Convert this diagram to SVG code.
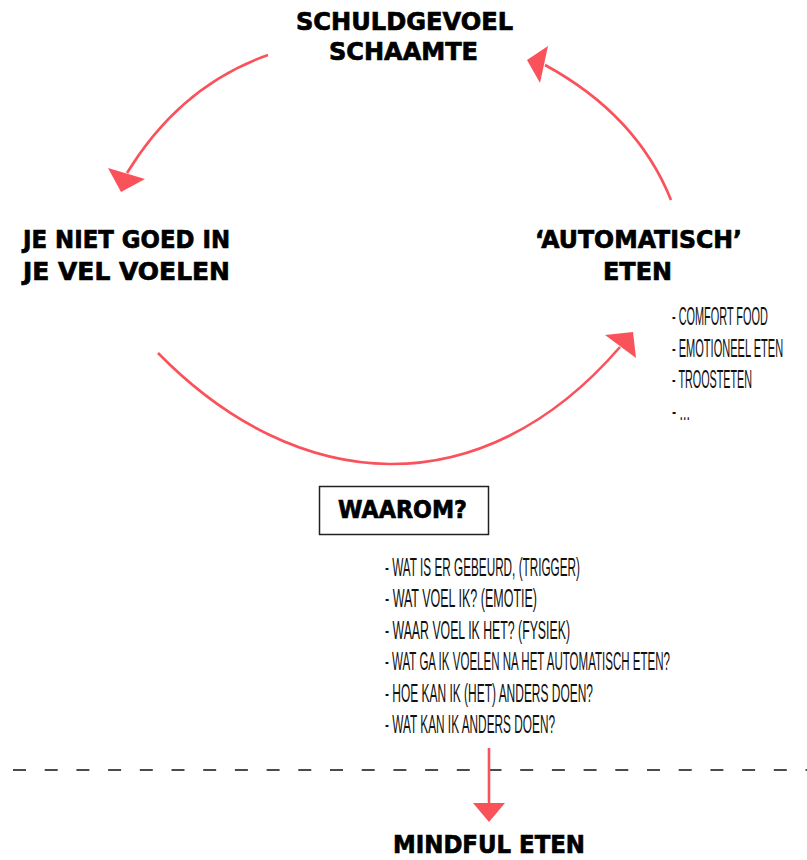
<svg xmlns="http://www.w3.org/2000/svg" width="807" height="860" viewBox="0 0 807 860">
<style>
.h{font-family:"DejaVu Sans","Liberation Sans",sans-serif;font-weight:bold;font-size:24.5px;fill:#000;stroke:#000;stroke-width:0.7}
.l{font-family:"Liberation Sans","DejaVu Sans",sans-serif;font-size:25px;fill:#111}
.c{fill:none;stroke:#FA525B;stroke-width:2.6}
.a{fill:#FA525B}
</style>
<rect width="807" height="860" fill="#fff"/>
<g id="node-schuldgevoel">
<text class="h" x="296" y="30" textLength="217" lengthAdjust="spacingAndGlyphs">SCHULDGEVOEL</text>
<text class="h" x="329" y="60" textLength="149" lengthAdjust="spacingAndGlyphs">SCHAAMTE</text>
</g>
<g id="node-niet-goed">
<text class="h" x="23" y="248" textLength="207" lengthAdjust="spacingAndGlyphs">JE NIET GOED IN</text>
<text class="h" x="23" y="280" textLength="207" lengthAdjust="spacingAndGlyphs">JE VEL VOELEN</text>
</g>
<g id="node-automatisch">
<text class="h" x="535" y="248" textLength="207" lengthAdjust="spacingAndGlyphs">‘AUTOMATISCH’</text>
<text class="h" x="603" y="280" textLength="69" lengthAdjust="spacingAndGlyphs">ETEN</text>
<g transform="translate(672,0) scale(0.45,1)">
<text class="l" x="0" y="325" textLength="213" lengthAdjust="spacingAndGlyphs">- COMFORT FOOD</text>
<text class="l" x="0" y="357" textLength="247" lengthAdjust="spacingAndGlyphs">- EMOTIONEEL ETEN</text>
<text class="l" x="0" y="388" textLength="178" lengthAdjust="spacingAndGlyphs">- TROOSTETEN</text>
<text class="l" x="0" y="420" textLength="40" lengthAdjust="spacingAndGlyphs">- ...</text>
</g>
</g>
<g id="node-waarom">
<rect x="319.5" y="486.5" width="169" height="48" fill="#fff" stroke="#222" stroke-width="1.5"/>
<text class="h" x="338" y="518" textLength="129" lengthAdjust="spacingAndGlyphs">WAAROM?</text>
<g transform="translate(385,0) scale(0.5,1)">
<text class="l" x="0" y="576" textLength="390" lengthAdjust="spacingAndGlyphs">- WAT IS ER GEBEURD, (TRIGGER)</text>
<text class="l" x="0" y="607.5" textLength="304" lengthAdjust="spacingAndGlyphs">- WAT VOEL IK? (EMOTIE)</text>
<text class="l" x="0" y="639" textLength="370" lengthAdjust="spacingAndGlyphs">- WAAR VOEL IK HET? (FYSIEK)</text>
<text class="l" x="0" y="670" textLength="570" lengthAdjust="spacingAndGlyphs">- WAT GA IK VOELEN NA HET AUTOMATISCH ETEN?</text>
<text class="l" x="0" y="702" textLength="416" lengthAdjust="spacingAndGlyphs">- HOE KAN IK (HET) ANDERS DOEN?</text>
<text class="l" x="0" y="733" textLength="340" lengthAdjust="spacingAndGlyphs">- WAT KAN IK ANDERS DOEN?</text>
</g>
</g>
<g id="node-mindful">
<text class="h" x="393" y="853" textLength="192" lengthAdjust="spacingAndGlyphs">MINDFUL ETEN</text>
</g>
<line x1="13" y1="770" x2="807" y2="770" stroke="#111" stroke-width="1.6" stroke-dasharray="13 18.7"/>
<g id="connectors">
<path class="c" d="M268,55 Q180,86 127,173"/>
<polygon class="a" points="108,168 145,179 121,192"/>
<path class="c" d="M671,200 Q637,115 545,65"/>
<polygon class="a" points="527,60 548,46 540,83"/>
<path class="c" d="M158,353 C298,496 481,508 620,347"/>
<polygon class="a" points="605,335 633,332 636,358"/>
<line class="c" x1="489" y1="748" x2="489" y2="805"/>
<polygon class="a" points="473,803 505,803 489,822"/>
</g>
</svg>
